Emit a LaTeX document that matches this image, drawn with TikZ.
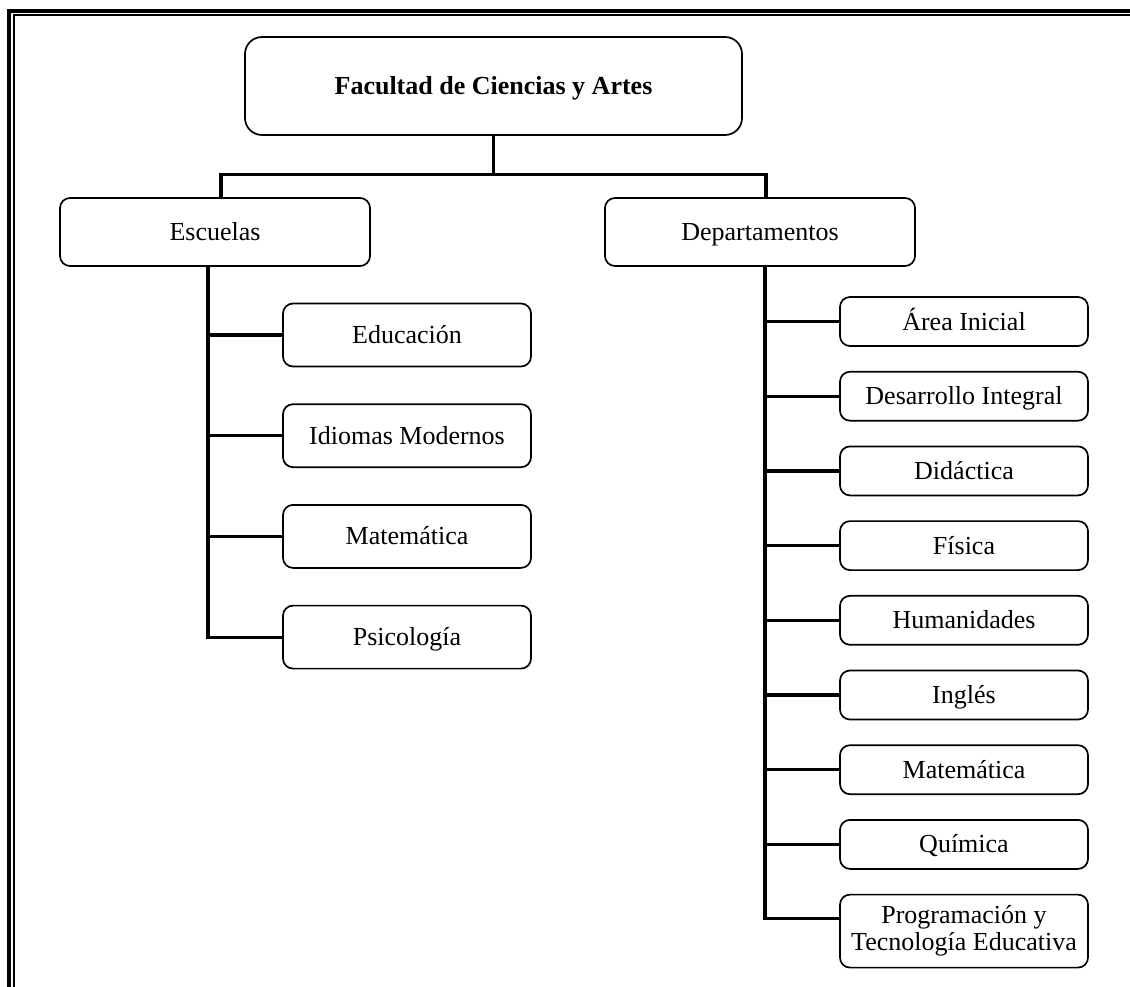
\documentclass[tikz,border=0pt]{standalone}
\usepackage{fontspec}
\setmainfont{Liberation Serif}
\usetikzlibrary{positioning, calc}

\begin{document}
\begin{tikzpicture}[
    x=1pt, y=-1pt,
    font=\fontsize{26}{27}\selectfont,
    caja/.style={rectangle, draw, line width=1.7pt, rounded corners=10pt, fill=white, inner sep=0pt, align=center},
    linea/.style={text height=21pt, text depth=4pt},
    escuela/.style={caja, linea, minimum width=248pt, minimum height=63pt},
    depto/.style={caja, linea, minimum width=248pt, minimum height=49pt},
    enlace/.style={line width=3.2pt}
]
\useasboundingbox (0,0) rectangle (1130,987);

% Marco
\draw[line width=3.6pt] (9,987) |- (1130,11);
\draw[line width=1.4pt] (14,987) |- (1130,15);

% Nodos principales
\node[caja, linea, font=\fontsize{26}{27}\selectfont\bfseries, minimum width=497pt, minimum height=98pt, rounded corners=17pt] (fac) at (493.5,86) {Facultad de Ciencias y Artes};
\node[caja, linea, minimum width=310pt, minimum height=68pt] (esc) at (215,232) {Escuelas};
\node[caja, linea, minimum width=310pt, minimum height=68pt] (dep) at (760,232) {Departamentos};

% Escuelas
\node[escuela] (edu) at (407,335) {Educación};
\node[escuela, below=36pt of edu] (idi) {Idiomas Modernos};
\node[escuela, below=36pt of idi] (mat) {Matemática};
\node[escuela, below=36pt of mat] (psi) {Psicología};

% Departamentos
\node[depto] (ini) at (964,321.5) {Área Inicial};
\node[depto, below=24pt of ini] (des) {Desarrollo Integral};
\node[depto, below=24pt of des] (did) {Didáctica};
\node[depto, below=24pt of did] (fis) {Física};
\node[depto, below=24pt of fis] (hum) {Humanidades};
\node[depto, below=24pt of hum] (ing) {Inglés};
\node[depto, below=24pt of ing] (matd) {Matemática};
\node[depto, below=24pt of matd] (qui) {Química};
\node[caja, minimum width=248pt, minimum height=73pt, below=24pt of qui] (prog) {Programación y\\ Tecnología Educativa};

% Conexiones
\draw[enlace] (fac.south) -- ++(0,39) coordinate (rama);
\draw[enlace] ([xshift=6pt]esc.north) |- (rama) -| ([xshift=6pt]dep.north);

\coordinate (tronco1) at ([xshift=-7pt]esc.south);
\draw[enlace] (tronco1) |- (psi.west);
\foreach \n in {edu, idi, mat}
    \draw[enlace] (tronco1 |- \n.west) -- (\n.west);

\coordinate (tronco2) at ([xshift=5pt]dep.south);
\draw[enlace] (tronco2) |- ([yshift=13pt]prog.west);
\foreach \n in {ini, des, did, fis, hum, ing, matd, qui}
    \draw[enlace] (tronco2 |- \n.west) -- (\n.west);

\end{tikzpicture}
\end{document}
